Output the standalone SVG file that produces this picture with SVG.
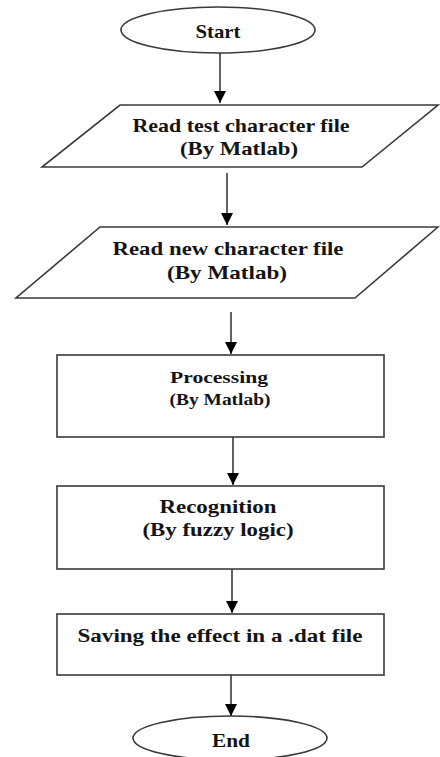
<svg xmlns="http://www.w3.org/2000/svg" width="440" height="757" viewBox="0 0 440 757">
<style>
.shape{fill:#fff;stroke:#3a3a3a;stroke-width:1.6}
.t{font-family:"Liberation Serif","Times New Roman",serif;font-weight:bold;font-size:19px;fill:#141414;text-anchor:middle}
.s{font-size:17px}
.c{stroke:#3a3a3a;stroke-width:1.6;fill:none}
</style>
<defs>
<marker id="ah" viewBox="0 0 12 12" refX="12" refY="6" markerWidth="12" markerHeight="12" markerUnits="userSpaceOnUse" orient="auto">
<path d="M0,0 L12,6 L0,12 Z" fill="#000"/>
</marker>
</defs>
<rect width="440" height="757" fill="#fff"/>
<g id="connectors">
<line class="c" x1="220" y1="53" x2="220" y2="103" marker-end="url(#ah)"/>
<line class="c" x1="227" y1="173" x2="227" y2="225" marker-end="url(#ah)"/>
<line class="c" x1="231" y1="312" x2="231" y2="354" marker-end="url(#ah)"/>
<line class="c" x1="233" y1="437" x2="233" y2="485" marker-end="url(#ah)"/>
<line class="c" x1="232" y1="569" x2="232" y2="613" marker-end="url(#ah)"/>
<line class="c" x1="231" y1="675" x2="231" y2="716" marker-end="url(#ah)"/>
</g>
<g id="start">
<ellipse class="shape" cx="218" cy="30" rx="97" ry="23"/>
<text class="t" x="218" y="38" textLength="45" lengthAdjust="spacingAndGlyphs">Start</text>
</g>
<g id="read-test">
<polygon class="shape" points="120,105 438,105 362,167 42,167"/>
<text class="t" x="241" y="132" textLength="217" lengthAdjust="spacingAndGlyphs">Read test character file</text>
<text class="t" x="239" y="155" textLength="118" lengthAdjust="spacingAndGlyphs">(By Matlab)</text>
</g>
<g id="read-new">
<polygon class="shape" points="100,227 438,227 355,298 16,298"/>
<text class="t" x="228" y="255" textLength="231" lengthAdjust="spacingAndGlyphs">Read new character file</text>
<text class="t" x="227" y="279" textLength="120" lengthAdjust="spacingAndGlyphs">(By Matlab)</text>
</g>
<g id="processing">
<rect class="shape" x="57" y="355" width="327" height="82"/>
<text class="t s" x="219" y="383" textLength="98" lengthAdjust="spacingAndGlyphs">Processing</text>
<text class="t s" x="220" y="405" textLength="101" lengthAdjust="spacingAndGlyphs">(By Matlab)</text>
</g>
<g id="recognition">
<rect class="shape" x="57" y="486" width="327" height="83"/>
<text class="t" x="218" y="513" textLength="117" lengthAdjust="spacingAndGlyphs">Recognition</text>
<text class="t" x="218" y="536" textLength="151" lengthAdjust="spacingAndGlyphs">(By fuzzy logic)</text>
</g>
<g id="saving">
<rect class="shape" x="57" y="614" width="327" height="61"/>
<text class="t" x="220" y="642" textLength="285" lengthAdjust="spacingAndGlyphs">Saving the effect in a .dat file</text>
</g>
<g id="end">
<ellipse class="shape" cx="230" cy="738" rx="97" ry="22"/>
<text class="t" x="231" y="747" textLength="38" lengthAdjust="spacingAndGlyphs">End</text>
</g>
</svg>
